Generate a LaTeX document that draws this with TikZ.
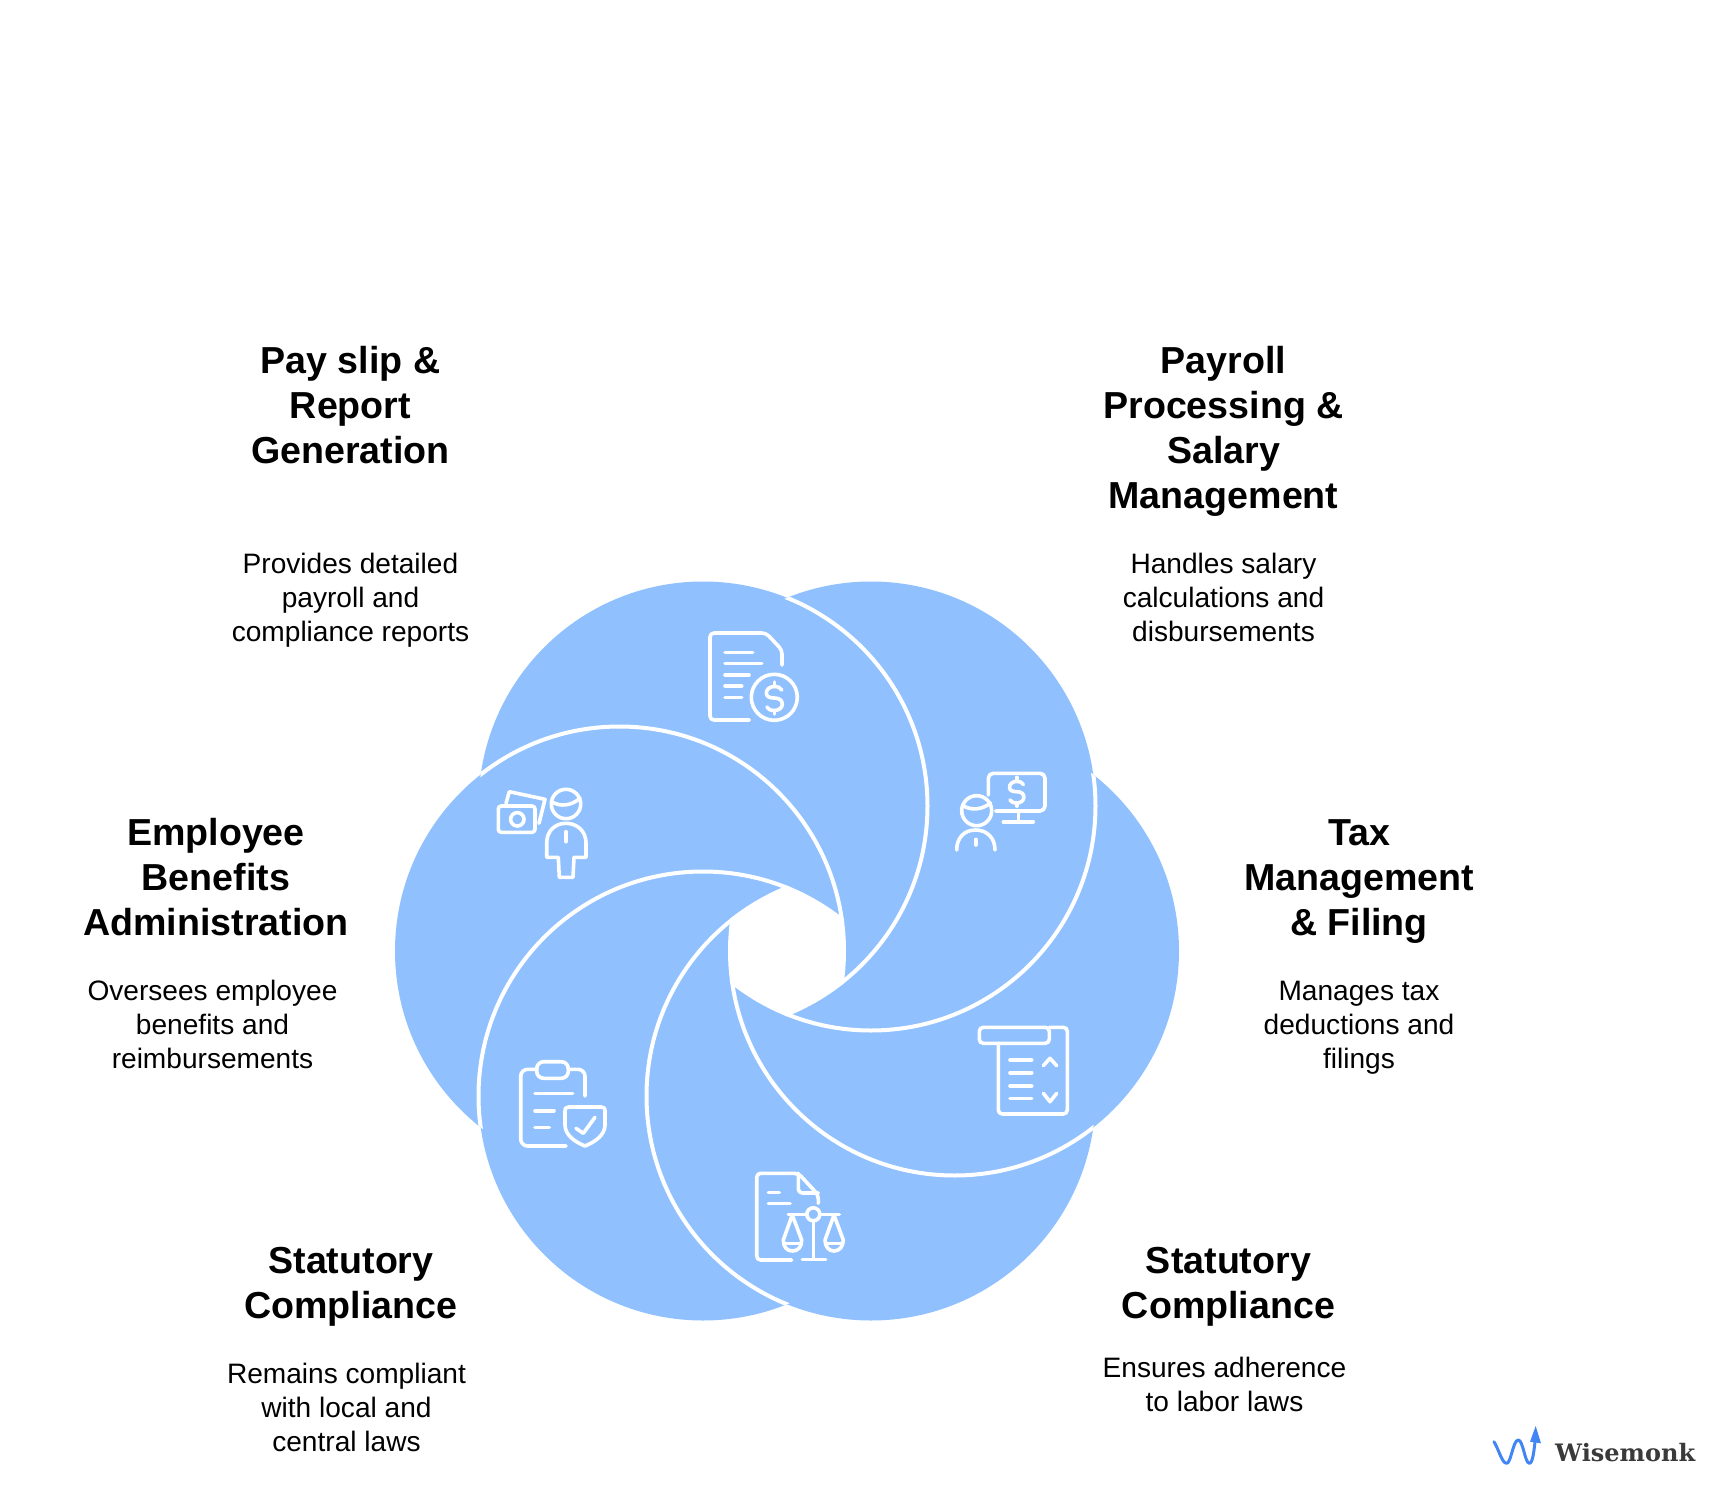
\documentclass[tikz,border=0pt]{standalone}
\usepackage{fontspec}
\setmainfont{Liberation Sans}
\newfontfamily\logofont{DejaVu Serif}

\definecolor{petalblue}{HTML}{90C1FE}
\definecolor{logoblue}{HTML}{4285F4}
\definecolor{logogray}{HTML}{3A3A3A}

\tikzset{
  iconline/.style={draw=white, line width=3.6pt, line cap=round, line join=round},
  titlenode/.style={align=center, font=\fontsize{37.6}{45}\selectfont\bfseries},
  descnode/.style={align=center, font=\fontsize{28.1}{34}\selectfont},
  dollar/.pic={
    \draw[iconline] (7.5,-8) .. controls (6,-10.5) and (3.5,-11.5) .. (0,-11.5) .. controls (-5,-11.5) and (-8,-8) .. (-8,-5) .. controls (-8,-1) and (-4,0) .. (0,0) .. controls (4.5,0) and (8,2) .. (8,6) .. controls (8,10) and (4.5,12.5) .. (0,12.5) .. controls (-4,12.5) and (-6.5,11) .. (-7.5,9);
    \draw[iconline] (0,-16) -- (0,-11.5);
    \draw[iconline] (0,12.5) -- (0,16);
  }
}

\begin{document}
\begin{tikzpicture}[x=1pt, y=-1pt]
\useasboundingbox (0,0) rectangle (1714,1512);

% Centri dei petali
\coordinate (ptl) at (703,806);
\coordinate (ptr) at (871,806);
\coordinate (pr) at (954.5,951);
\coordinate (pbr) at (871,1096);
\coordinate (pbl) at (703,1096);
\coordinate (pl) at (619.5,951);

% Petali: ognuno finisce sotto il successivo
\foreach \petal/\nextpetal in {ptl/pl, pl/pbl, pbl/pbr, pbr/pr, pr/ptr, ptr/ptl} {
  \begin{scope}[even odd rule]
    \clip (0,0) rectangle (1714,1512) (\nextpetal) circle (224.5);
    \fill[petalblue] (\petal) circle (224.5);
  \end{scope}
}
% Bordi bianchi, solo sopra il petalo precedente
\foreach \prevpetal/\petal/\nextpetal in {ptr/ptl/pl, ptl/pl/pbl, pl/pbl/pbr, pbl/pbr/pr, pbr/pr/ptr, pr/ptr/ptl} {
  \begin{scope}[even odd rule]
    \clip (\prevpetal) circle (224.5);
    \clip (0,0) rectangle (1714,1512) (\nextpetal) circle (224.5);
    \draw[white, line width=4pt] (\petal) circle (224.5);
  \end{scope}
}

% Foro centrale
\begin{scope}
  \clip (ptl) circle (226.5);
  \clip (ptr) circle (226.5);
  \clip (pr) circle (226.5);
  \clip (pbr) circle (226.5);
  \clip (pbl) circle (226.5);
  \clip (pl) circle (226.5);
  \fill[white] (500,700) rectangle (1100,1200);
\end{scope}

% Icona: documento e dollaro
\draw[iconline] (749.3,720) -- (714,720) [rounded corners=4pt] -- (710,720) -- (710,633) -- (766,633) -- (782,650) -- (782,665);
\draw[iconline] (725,652.3) -- (752.7,652.3);
\draw[iconline] (725,663.3) -- (761.7,663.3);
\draw[iconline] (725,675) -- (749,675);
\draw[iconline] (725,686) -- (741.7,686);
\draw[iconline] (725,697.3) -- (741.7,697.3);
\draw[iconline] (774.3,697.3) circle (23);
\pic at (774.3,698) {dollar};

% Icona: persona e monitor
\draw[iconline, rounded corners=5pt] (988.3,795) -- (988.3,773.3) -- (1045,773.3) -- (1045,811) -- (995.7,811);
\draw[iconline] (1018.3,811) -- (1018.3,821.7);
\draw[iconline] (1003.3,821.7) -- (1033.3,821.7);
\pic[scale=0.9] at (1016.7,791.7) {dollar};
\draw[iconline] (976.7,810.7) circle (15);
\draw[iconline] (962.5,805) .. controls (970,811) and (982,810) .. (990.5,803);
\draw[iconline] (956.7,850) .. controls (956.7,838) and (964,830) .. (975.7,830) .. controls (987,830) and (995,838) .. (995,850);
\draw[iconline] (975.7,839.3) -- (975.7,845);

% Icona: banconote e persona
\draw[iconline] (506,803.3) -- (509.3,791.7) -- (545,799.3) -- (539,823.3);
\draw[iconline, rounded corners=3pt] (498.3,806) rectangle (535,832.3);
\draw[iconline] (517.3,819.3) circle (6.7);
\draw[iconline] (566,804) circle (14.7);
\draw[iconline] (551.7,801.7) .. controls (560,807) and (571,806) .. (580,798.3);
\draw[iconline] (558.3,857.3) -- (546.7,857.3) -- (546.7,843) .. controls (546.7,831) and (555,823.3) .. (566,823.3) .. controls (577,823.3) and (586,831) .. (586,843) -- (586,857.3) -- (574,857.3) -- (573,877.3) -- (559.3,877.3) -- cycle;
\draw[iconline] (566,831.7) -- (566,841.7);

% Icona: registro e scudo
\draw[iconline, rounded corners=7pt] (536.7,1069.3) -- (520.7,1069.3) -- (520.7,1146) -- (566,1146);
\draw[iconline, rounded corners=7pt] (568.3,1069.3) -- (585,1069.3) -- (585,1096);
\draw[iconline, rounded corners=7pt] (536.7,1061.7) rectangle (568.3,1078.3);
\draw[iconline] (535,1093.3) -- (572.7,1093.3);
\draw[iconline] (535,1110.7) -- (554,1110.7);
\draw[iconline] (535,1127.3) -- (549.3,1127.3);
\draw[iconline] (565,1112) .. controls (565,1108) .. (569,1107) -- (601,1107) .. controls (605,1108) .. (605,1112) -- (605,1125) .. controls (605,1135) and (595,1142) .. (585,1146) .. controls (575,1142) and (565,1135) .. (565,1125) -- cycle;
\draw[iconline] (576,1128.3) -- (583.3,1133.3) -- (595,1117.3);

% Icona: documento e bilancia
\draw[iconline] (791.7,1260) -- (761,1260) [rounded corners=4pt] -- (756.7,1260) -- (756.7,1173.3) -- (798.3,1173.3) -- (818.3,1195) -- (818.3,1203.3);
\draw[iconline, rounded corners=4pt] (798.3,1173.3) -- (798.3,1193) -- (818.3,1193);
\draw[iconline] (768.3,1192.3) -- (779.3,1192.3);
\draw[iconline] (768.3,1203.3) -- (790,1203.3);
\draw[iconline] (788.3,1214.3) -- (806.7,1214.3);
\draw[iconline] (820,1214.3) -- (839.3,1214.3);
\draw[iconline] (813.3,1214.3) circle (6.5);
\draw[iconline] (813.3,1220.7) -- (813.3,1259.3);
\draw[iconline] (802.3,1259.3) -- (825.7,1259.3);
% Piatti
\draw[iconline] (792.3,1215) -- (783.3,1240) .. controls (783.3,1247) and (787,1251) .. (792.5,1251) .. controls (798,1251) and (801.7,1247) .. (801.7,1240) -- cycle;
\draw[iconline] (785,1243.3) -- (800,1243.3);
\draw[iconline] (834,1215) -- (825,1240) .. controls (825,1247) and (829,1251) .. (834,1251) .. controls (839,1251) and (843.3,1247) .. (843.3,1240) -- cycle;
\draw[iconline] (827,1243.3) -- (842,1243.3);

% Icona: modulo fiscale
\draw[iconline, rounded corners=4pt] (979.3,1027.3) rectangle (1049.3,1043.3);
\draw[iconline, rounded corners=4pt] (1049.3,1027.3) -- (1067.3,1027.3) -- (1067.3,1114) -- (998.3,1114) -- (998.3,1043.3);
\draw[iconline] (1010,1060) -- (1031.7,1060);
\draw[iconline] (1010,1072.7) -- (1031.7,1072.7);
\draw[iconline] (1010,1086) -- (1031.7,1086);
\draw[iconline] (1010,1098.3) -- (1031.7,1098.3);
\draw[iconline] (1043.3,1065.7) -- (1050,1058.3) -- (1056.7,1065.7);
\draw[iconline] (1043.3,1093.3) -- (1050,1101.7) -- (1056.7,1093.3);

% Testi
\node[titlenode] (payslipT) at (350.5,405.5) {Pay slip \&\\Report\\Generation};
\node[descnode] (payslipD) at (350.5,600.3) {Provides detailed\\payroll and\\compliance reports};
\node[titlenode] (payrollT) at (1223.5,431.4) {Payroll\\Processing \&\\Salary\\Management};
\node[descnode] (payrollD) at (1223.5,597) {Handles salary\\calculations and\\disbursements};
\node[titlenode] (taxT) at (1359,881.4) {Tax\\Management\\\& Filing};
\node[descnode] (taxD) at (1359,1028) {Manages tax\\deductions and\\filings};
\node[titlenode] (benefitsT) at (216,877) {Employee\\Benefits\\Administration};
\node[descnode] (benefitsD) at (212.5,1024.5) {Oversees employee\\benefits and\\reimbursements};
\node[titlenode] (statLeftT) at (351,1286.4) {Statutory\\Compliance};
\node[descnode] (statLeftD) at (346.5,1407) {Remains compliant\\with local and\\central laws};
\node[titlenode] (statRightT) at (1228.5,1286.4) {Statutory\\Compliance};
\node[descnode] (statRightD) at (1224.5,1384.5) {Ensures adherence\\to labor laws};

% Logo
\draw[logoblue, line width=3pt, line cap=round, line join=round] (1494,1441.7) .. controls (1499,1450) and (1502,1463.3) .. (1506.7,1463.3) .. controls (1511,1463.3) and (1513,1440) .. (1518.3,1440) .. controls (1523,1440) and (1525,1463.3) .. (1529.3,1463.3) .. controls (1533,1463.3) and (1534,1450) .. (1535.7,1436);
\fill[logoblue] (1535.7,1426) -- (1530,1441.7) -- (1541,1443.3) -- cycle;
\node[anchor=base west, inner sep=0pt, text=logogray, font=\logofont\fontsize{24}{30}\selectfont\bfseries] (logotext) at (1555,1461) {Wisemonk};
\end{tikzpicture}
\end{document}
